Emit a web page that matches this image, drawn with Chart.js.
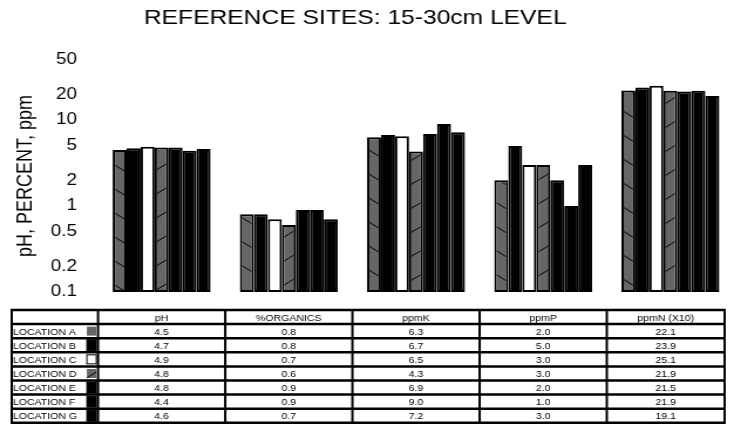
<!DOCTYPE html>
<html>
<head>
<meta charset="utf-8">
<title>Reference sites 15-30cm level</title>
<script src="https://cdn.jsdelivr.net/npm/chart.js@4.4.1/dist/chart.umd.min.js"></script>
<style>
  html, body { margin: 0; padding: 0; background: #fff; overflow: hidden; }
  #soilChart { display: block; }
</style>
</head>
<body>
<!-- drawn narrow, shown wide: the whole sheet is stretched sideways -->
<canvas id="soilChart" width="626" height="425" style="width: 734px; height: 425px;"></canvas>
<script>
const chartTitle = "REFERENCE SITES: 15-30cm LEVEL";
const axisTitle = "pH, PERCENT, ppm";
const categories = ["pH", "%ORGANICS", "ppmK", "ppmP", "ppmN (X10)"];
const locations = [
  "LOCATION A", "LOCATION B", "LOCATION C", "LOCATION D",
  "LOCATION E", "LOCATION F", "LOCATION G",
];
const locationA = [4.5, 0.8, 6.3, 2.0, 22.1];
const locationB = [4.7, 0.8, 6.7, 5.0, 23.9];
const locationC = [4.9, 0.7, 6.5, 3.0, 25.1];
const locationD = [4.8, 0.6, 4.3, 3.0, 21.9];
const locationE = [4.8, 0.9, 6.9, 2.0, 21.5];
const locationF = [4.4, 0.9, 9.0, 1.0, 21.9];
const locationG = [4.6, 0.7, 7.2, 3.0, 19.1];
const yTicks = [0.1, 0.2, 0.5, 1, 2, 5, 10, 20, 50];

const seriesValues = [locationA, locationB, locationC, locationD, locationE, locationF, locationG];

const GRAY = "#666666";
const FONT = "'Liberation Sans', Arial, Helvetica, sans-serif";
Chart.defaults.font.family = FONT;
Chart.defaults.color = "#000";

const canvas = document.getElementById("soilChart");
const ctx = canvas.getContext("2d");

// gray fill with thin black diagonals, "down" = \ and "up" = /
const makeHatch = (dir) => {
  const w = 34, h = 24;
  const tile = document.createElement("canvas");
  tile.width = w;
  tile.height = h;
  const g = tile.getContext("2d");
  g.fillStyle = GRAY;
  g.fillRect(0, 0, w, h);
  g.strokeStyle = "#000";
  g.lineWidth = 1;
  g.beginPath();
  for (const dx of [-w, 0, w]) {
    for (const dy of [-h, 0, h]) {
      if (dir === "down") {
        g.moveTo(dx, dy);
        g.lineTo(dx + w, dy + h);
      } else {
        g.moveTo(dx, dy + h);
        g.lineTo(dx + w, dy);
      }
    }
  }
  g.stroke();
  return ctx.createPattern(tile, "repeat");
};

const locationStyles = [
  { fill: makeHatch("down"), swatch: GRAY },
  { fill: "#000", swatch: "#000" },
  { fill: "#fff", swatch: "#fff" },
  { fill: makeHatch("up"), swatch: GRAY, slash: true },
  { fill: "#000", swatch: "#000" },
  { fill: "#000", swatch: "#000" },
  { fill: "#000", swatch: "#000" },
];

// title plus the values table that sits under the bars, one column per category
const dataTable = {
  id: "dataTable",
  afterDraw(chart) {
    const { ctx, scales: { x } } = chart;
    const top = 310, rowH = 14.1, left = 10;
    const edges = categories.map((_, i) => x.getPixelForValue(i - 0.5));
    const right = Math.min(x.getPixelForValue(categories.length - 0.5), chart.width - 8);
    edges.push(right);
    const rows = locations.length + 1;
    const bottom = top + rows * rowH;
    const mid = (i) => (edges[i] + edges[i + 1]) / 2;

    ctx.save();
    ctx.fillStyle = "#000";
    ctx.textBaseline = "middle";
    ctx.textAlign = "center";
    ctx.font = `21px ${FONT}`;
    ctx.fillText(chartTitle, 303, 18);

    ctx.font = `9px ${FONT}`;
    categories.forEach((name, i) => ctx.fillText(name, mid(i), top + rowH / 2 + 1));

    locations.forEach((name, r) => {
      const cy = top + (r + 1.5) * rowH + 1;
      ctx.fillStyle = "#000";
      ctx.textAlign = "left";
      ctx.fillText(name, left + 1, cy);

      const st = locationStyles[r];
      const sx = edges[0] - 9.5;
      const sh = st.swatch === "#000" ? 11 : 9;
      const sy = cy - 1 - sh / 2;
      ctx.fillStyle = st.swatch;
      ctx.fillRect(sx, sy, 8, sh);
      ctx.lineWidth = 1;
      ctx.strokeStyle = "#000";
      if (st.slash) {
        ctx.beginPath();
        ctx.moveTo(sx, sy + sh);
        ctx.lineTo(sx + 8, sy + 3);
        ctx.stroke();
      }
      if (st.swatch !== GRAY) ctx.strokeRect(sx, sy, 8, sh);

      ctx.fillStyle = "#000";
      ctx.textAlign = "center";
      seriesValues[r].forEach((v, i) => ctx.fillText(v.toFixed(1), mid(i), cy));
    });

    ctx.strokeStyle = "#000";
    ctx.lineWidth = 2.5;
    ctx.beginPath();
    for (let r = 0; r <= rows; r++) {
      const y = top + r * rowH;
      ctx.moveTo(left - 1, y);
      ctx.lineTo(right + 1, y);
    }
    ctx.stroke();
    ctx.lineWidth = 2;
    ctx.beginPath();
    [left, ...edges].forEach((xx) => {
      ctx.moveTo(xx, top);
      ctx.lineTo(xx, bottom);
    });
    ctx.stroke();
    ctx.restore();
  },
};

new Chart(ctx, {
  type: "bar",
  data: {
    labels: categories,
    datasets: seriesValues.map((values, i) => ({
      label: locations[i],
      data: values,
      backgroundColor: locationStyles[i].fill,
      borderColor: "#000",
      borderWidth: 2,
      borderSkipped: false,
      barPercentage: 1,
      categoryPercentage: 0.77,
    })),
  },
  options: {
    responsive: false,
    devicePixelRatio: 1,
    animation: false,
    layout: { padding: { top: 60, bottom: 133, left: 0, right: 0 } },
    scales: {
      x: { display: false },
      y: {
        type: "logarithmic",
        min: 0.1,
        max: 50,
        afterBuildTicks: (scale) => {
          scale.ticks = yTicks.map((value) => ({ value }));
        },
        afterFit: (scale) => {
          scale.width = 83.6;
        },
        grid: { display: false, drawTicks: false },
        border: { display: false },
        ticks: {
          autoSkip: false,
          padding: 18,
          color: "#000",
          font: { size: 16 },
          callback: (value) => String(value),
        },
        title: {
          display: true,
          text: axisTitle,
          color: "#000",
          font: { size: 18 },
          padding: { top: 11, bottom: 0 },
        },
      },
    },
    plugins: {
      legend: { display: false },
      title: { display: false },
      tooltip: { enabled: false },
    },
  },
  plugins: [dataTable],
});
</script>
</body>
</html>
